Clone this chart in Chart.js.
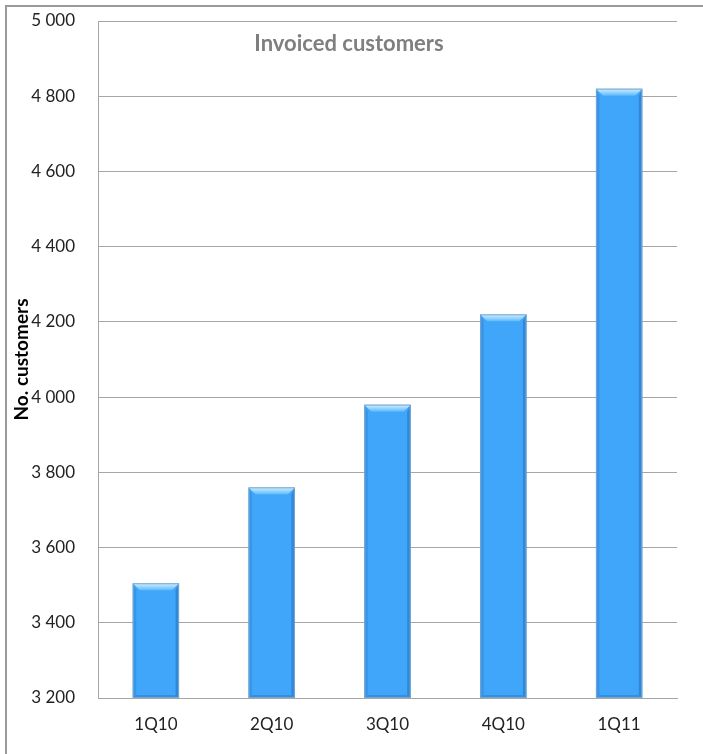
<!DOCTYPE html>
<html>
<head>
<meta charset="utf-8">
<script src="https://cdn.jsdelivr.net/npm/chart.js@4"></script>
<style>
  html, body { margin: 0; padding: 0; background: #fff; }
  #wrap { position: absolute; left: 0; top: 0; width: 703px; height: 754px; }
</style>
</head>
<body>
<div id="wrap"><canvas id="c" width="703" height="754"></canvas></div>
<script>
const categories = ["1Q10", "2Q10", "3Q10", "4Q10", "1Q11"];
const customers = [3505, 3760, 3980, 4220, 4820];
const chartTitle = "Invoiced customers";
const yAxisTitle = "No. customers";
const yMin = 3200, yMax = 5000, yStep = 200;

const FONT = "Lato, 'Open Sans', sans-serif";

const frame = {
  id: 'frame',
  beforeDraw(chart) {
    const ctx = chart.ctx;
    ctx.save();
    ctx.strokeStyle = '#9a9a9a';
    ctx.lineWidth = 2;
    ctx.beginPath();
    ctx.moveTo(6, 754);
    ctx.lineTo(6, 6);
    ctx.lineTo(703, 6);
    ctx.stroke();
    ctx.restore();
  },
  afterDraw(chart) {
    const ctx = chart.ctx;
    const a = chart.chartArea;
    ctx.save();
    ctx.fillStyle = '#7f7f7f';
    ctx.font = "bold 22px " + FONT;
    ctx.textAlign = 'center';
    ctx.textBaseline = 'middle';
    ctx.fillText(chartTitle, 349, 44);
    ctx.fillStyle = '#000';
    ctx.font = "bold 19px " + FONT;
    ctx.translate(22, (a.top + a.bottom) / 2);
    ctx.rotate(-Math.PI / 2);
    ctx.fillText(yAxisTitle, 0, 0);
    ctx.restore();
  }
};

const bevel = {
  id: 'bevel',
  afterDatasetsDraw(chart) {
    const ctx = chart.ctx;
    const area = chart.chartArea;
    const meta = chart.getDatasetMeta(0);
    meta.data.forEach(bar => {
      const w = bar.width;
      const l = bar.x - w / 2, r = bar.x + w / 2;
      const t = bar.y, b = Math.min(bar.base, area.bottom);
      const bv = 7;
      ctx.save();
      let g = ctx.createLinearGradient(0, t, 0, t + bv);
      g.addColorStop(0, '#d6f1ff');
      g.addColorStop(1, '#5cb9ff');
      ctx.fillStyle = g;
      ctx.beginPath();
      ctx.moveTo(l, t); ctx.lineTo(r, t); ctx.lineTo(r - bv, t + bv); ctx.lineTo(l + bv, t + bv); ctx.closePath();
      ctx.fill();
      ctx.fillStyle = 'rgba(40,120,200,0.35)';
      ctx.beginPath();
      ctx.moveTo(l, t); ctx.lineTo(l + bv * 0.5, t + bv); ctx.lineTo(l + bv * 0.5, b - 3); ctx.lineTo(l, b); ctx.closePath();
      ctx.fill();
      ctx.fillStyle = 'rgba(30,100,180,0.45)';
      ctx.beginPath();
      ctx.moveTo(r, t); ctx.lineTo(r - bv * 0.5, t + bv); ctx.lineTo(r - bv * 0.5, b - 3); ctx.lineTo(r, b); ctx.closePath();
      ctx.fill();
      ctx.fillStyle = 'rgba(30,100,180,0.35)';
      ctx.beginPath();
      ctx.moveTo(l, b); ctx.lineTo(l + bv * 0.5, b - 3); ctx.lineTo(r - bv * 0.5, b - 3); ctx.lineTo(r, b); ctx.closePath();
      ctx.fill();
      ctx.strokeStyle = '#7aa6cc';
      ctx.lineWidth = 1;
      ctx.strokeRect(l + 0.5, t + 0.5, w - 1, b - t - 1);
      ctx.restore();
    });
  }
};

new Chart(document.getElementById('c'), {
  type: 'bar',
  data: {
    labels: categories,
    datasets: [{
      data: customers,
      backgroundColor: '#3fa6fa',
      borderWidth: 0,
      barPercentage: 0.4,
      categoryPercentage: 1.0
    }]
  },
  options: {
    responsive: false,
    animation: false,
    devicePixelRatio: 1,
    layout: { padding: { left: 0, top: 21, right: 26, bottom: 0 } },
    plugins: { legend: { display: false }, tooltip: { enabled: false }, title: { display: false } },
    scales: {
      x: {
        grid: { display: false, drawTicks: false },
        border: { display: true, color: '#a6a6a6', width: 1 },
        ticks: { color: '#222', font: { family: FONT, size: 17 }, padding: 16 },
        afterFit(s) { s.height = 56; s.paddingLeft = 0; s.paddingRight = 0; }
      },
      y: {
        min: yMin, max: yMax,
        grid: { color: '#a6a6a6', lineWidth: 1, drawTicks: false },
        border: { display: true, color: '#a6a6a6', width: 1 },
        ticks: {
          stepSize: yStep,
          color: '#222',
          font: { family: FONT, size: 17 },
          padding: 23,
          callback: v => String(v).replace(/\B(?=(\d{3})+(?!\d))/g, ' ')
        },
        afterFit(s) { s.width = 98; s.paddingTop = 0; s.paddingBottom = 0; }
      }
    }
  },
  plugins: [frame, bevel]
});
</script>
</body>
</html>
